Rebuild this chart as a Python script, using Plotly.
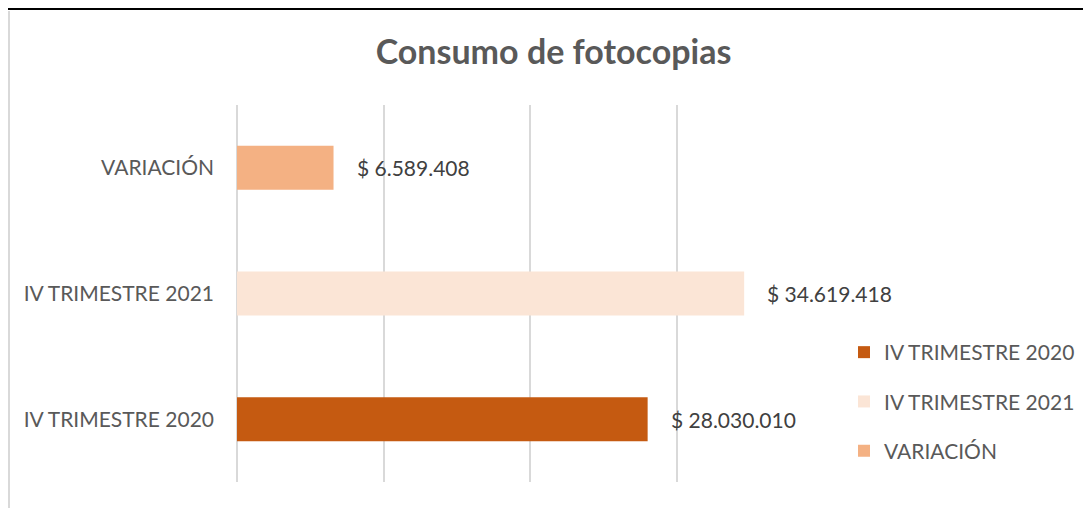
import plotly.graph_objects as go

categories = ["IV TRIMESTRE 2020", "IV TRIMESTRE 2021", "VARIACIÓN"]
values = [28030010, 34619418, 6589408]
labels = ["$ 28.030.010", "$ 34.619.418", "$ 6.589.408"]
colors = ["#C55A11", "#FBE5D6", "#F4B183"]

FONT = "Lato, Carlito, Liberation Sans, sans-serif"

W, H = 1091, 508
L, R, T, B = 229, 276, 97, 34
PW, PH = W - L - R, H - T - B

fig = go.Figure()
for i, (c, v, col) in enumerate(zip(categories, values, colors)):
    fig.add_trace(go.Bar(
        y=[c], x=[v], name=c, orientation="h",
        marker=dict(color=col, line=dict(width=0)),
        width=0.35, legendgroup=f"g{i}", hoverinfo="x+y",
    ))

for c, v, t in zip(categories, values, labels):
    fig.add_annotation(x=v, y=c, text=t, showarrow=False, xanchor="left",
                       xshift=21, font=dict(size=21, color="#404040", family=FONT))

fig.update_layout(
    width=W, height=H,
    barmode="overlay",
    paper_bgcolor="white", plot_bgcolor="white",
    margin=dict(l=L, r=R, t=T, b=B),
    title=dict(text="<b>Consumo de fotocopias</b>", x=0.5, xanchor="center",
               y=0.913, yanchor="middle",
               font=dict(size=34, color="#595959", family=FONT)),
    xaxis=dict(range=[0, 40000000], dtick=10000000, showticklabels=False,
               showgrid=True, gridcolor="#D9D9D9", gridwidth=1.5,
               zeroline=True, zerolinecolor="#D9D9D9", zerolinewidth=1.5,
               fixedrange=True),
    yaxis=dict(categoryorder="array", categoryarray=categories,
               tickfont=dict(size=21, color="#595959", family=FONT),
               ticks="", ticklabelstandoff=22, showgrid=False),
    legend=dict(x=(844 - 8 - L) / PW, y=(474 - 332 + 8) / PH, xanchor="left", yanchor="top",
                font=dict(size=21, color="#595959", family=FONT),
                tracegroupgap=19, traceorder="grouped",
                itemwidth=30, bgcolor="rgba(0,0,0,0)"),
    showlegend=True,
)

# screenshot frame lines
fig.add_shape(type="line", xref="paper", yref="paper",
              x0=-L / PW, x1=(W - L) / PW, y0=(PH + T - 1) / PH, y1=(PH + T - 1) / PH,
              line=dict(color="black", width=2))
fig.add_shape(type="line", xref="paper", yref="paper",
              x0=(1 - L) / PW, x1=(1 - L) / PW, y0=(PH + T - 3) / PH, y1=-B / PH,
              line=dict(color="#D9D9D9", width=2))

fig.write_html("out.html")
